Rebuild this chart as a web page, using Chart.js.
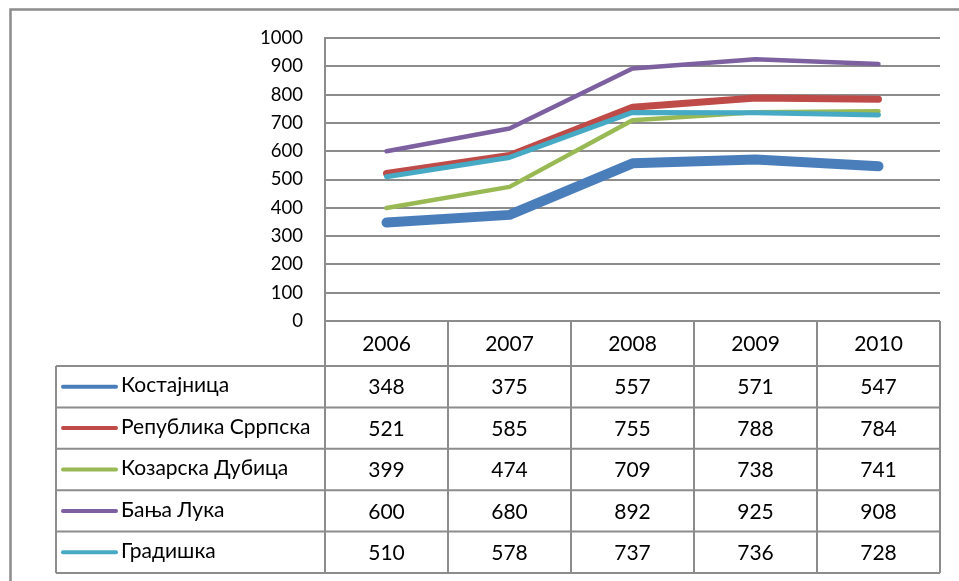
<!DOCTYPE html>
<html><head><meta charset="utf-8">
<script src="https://cdn.jsdelivr.net/npm/chart.js@4/dist/chart.umd.min.js"></script>
<style>html,body{margin:0;padding:0;background:#fff;overflow:hidden}#wrap{width:959px;height:581px;position:relative}</style>
</head><body><div id="wrap"><canvas id="c" width="959" height="581"></canvas></div>
<script>
const years = ['2006', '2007', '2008', '2009', '2010'];
const seriesNames = ['Костајница', 'Република Сррпска', 'Козарска Дубица', 'Бања Лука', 'Градишка'];
const kostajnica = [348, 375, 557, 571, 547];
const republikaSrpska = [521, 585, 755, 788, 784];
const kozarskaDubica = [399, 474, 709, 738, 741];
const banjaLuka = [600, 680, 892, 925, 908];
const gradiska = [510, 578, 737, 736, 728];
const yTickLabels = ['0', '100', '200', '300', '400', '500', '600', '700', '800', '900', '1000'];

const seriesValues = [kostajnica, republikaSrpska, kozarskaDubica, banjaLuka, gradiska];
const colors = ['#4A7EBB', '#BE4B48', '#98B954', '#7D60A0', '#46AAC5'];
const widths = [10, 7, 4.5, 4.5, 5];
const FONT = 'Lato, "Open Sans", sans-serif';
const GRID = '#8c8c8c';

const tablePlugin = {
  id: 'dataTable',
  beforeDraw(chart) {
    const ctx = chart.ctx;
    ctx.save();
    ctx.strokeStyle = GRID;
    ctx.lineWidth = 2.5;
    ctx.beginPath();
    ctx.moveTo(10.5, 581);
    ctx.lineTo(10.5, 9.5);
    ctx.lineTo(959, 9.5);
    ctx.stroke();
    ctx.restore();
  },
  afterDraw(chart) {
    const ctx = chart.ctx;
    const ca = chart.chartArea;
    const xs = chart.scales.x;
    const n = years.length;
    const colW = (ca.right - ca.left) / n;
    const tableLeft = 56;
    const headTop = ca.bottom;
    const headBottom = 366;
    const rowH = 41.4;
    const tableBottom = headBottom + rowH * seriesNames.length;
    ctx.save();
    ctx.strokeStyle = GRID;
    ctx.lineWidth = 2;
    ctx.beginPath();
    for (let i = 0; i <= n; i++) {
      const xx = ca.left + i * colW;
      ctx.moveTo(xx, i === 0 ? ca.top : headTop);
      ctx.lineTo(xx, tableBottom);
    }
    ctx.moveTo(tableLeft, headBottom);
    ctx.lineTo(tableLeft, tableBottom);
    for (let r = 0; r <= seriesNames.length; r++) {
      const yy = headBottom + r * rowH;
      ctx.moveTo(tableLeft, yy);
      ctx.lineTo(ca.right, yy);
    }
    ctx.stroke();

    ctx.fillStyle = '#000';
    ctx.font = '21px ' + FONT;
    ctx.textAlign = 'center';
    ctx.textBaseline = 'middle';
    years.forEach((yv, i) => {
      ctx.fillText(yv, xs.getPixelForValue(i), (headTop + headBottom) / 2 + 1);
    });
    seriesNames.forEach((name, r) => {
      const cy = headBottom + r * rowH + rowH / 2;
      ctx.strokeStyle = colors[r];
      ctx.lineWidth = 4;
      ctx.lineCap = 'round';
      ctx.beginPath();
      ctx.moveTo(63, cy);
      ctx.lineTo(116, cy);
      ctx.stroke();
      ctx.textAlign = 'left';
      ctx.fillText(name, 121, cy - 1);
      ctx.textAlign = 'center';
      seriesValues[r].forEach((v, i) => {
        ctx.fillText(String(v), xs.getPixelForValue(i), cy + 1);
      });
    });
    ctx.restore();
  }
};

new Chart(document.getElementById('c'), {
  type: 'line',
  data: {
    labels: years,
    datasets: seriesNames.map((name, i) => ({
      label: name,
      data: seriesValues[i],
      borderColor: colors[i],
      backgroundColor: colors[i],
      borderWidth: widths[i],
      borderCapStyle: 'round',
      borderJoinStyle: 'round',
      pointRadius: 0,
      tension: 0,
      fill: false,
      order: seriesNames.length - i
    }))
  },
  options: {
    responsive: false,
    animation: false,
    layout: { padding: { left: 0, top: 38, right: 19, bottom: 260 } },
    plugins: { legend: { display: false }, tooltip: { enabled: false } },
    scales: {
      x: { type: 'category', offset: true, display: false },
      y: {
        min: 0, max: 1000,
        afterFit(scale) { scale.width = 325; },
        afterBuildTicks(scale) { scale.ticks = yTickLabels.map(t => ({ value: Number(t) })); },
        ticks: {
          padding: 22,
          color: '#000',
          font: { family: FONT, size: 18.5 },
          callback: (v) => String(v)
        },
        grid: { color: GRID, lineWidth: 2, drawTicks: false },
        border: { display: true, color: GRID, width: 2 }
      }
    }
  },
  plugins: [tablePlugin]
});
</script>
</body></html>
